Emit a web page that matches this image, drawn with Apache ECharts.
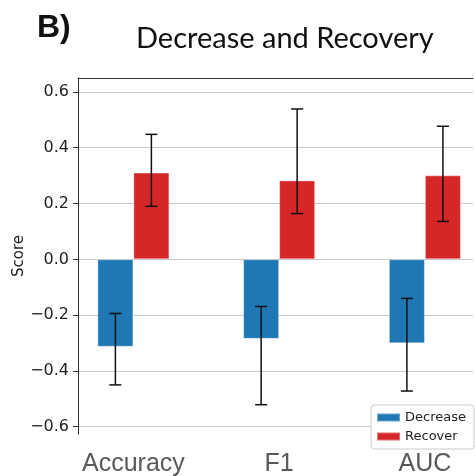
<!DOCTYPE html>
<html><head><meta charset="utf-8">
<script src="https://cdn.jsdelivr.net/npm/echarts@6/dist/echarts.min.js"></script>
<style>html,body{margin:0;padding:0;background:#fff}#c{width:475px;height:476px}</style>
</head><body><div id="c"></div>
<script>
const categories = ['Accuracy', 'F1', 'AUC'];
const seriesNames = ['Decrease', 'Recover'];
const decrease = [-0.313, -0.285, -0.301];
const decreaseLow = [-0.450, -0.521, -0.472];
const decreaseHigh = [-0.194, -0.169, -0.140];
const recover = [0.311, 0.283, 0.301];
const recoverLow = [0.190, 0.164, 0.136];
const recoverHigh = [0.448, 0.539, 0.477];
const yTicks = [-0.6, -0.4, -0.2, 0.0, 0.2, 0.4, 0.6];

const BAR_W = 36;
const catIdx = categories.map((c, i) => i);

function errRender(side) {
  return function (params, api) {
    const x = api.value(0);
    const lo = api.coord([x, api.value(1)]);
    const hi = api.coord([x, api.value(2)]);
    const cx = lo[0] + side * BAR_W / 2;
    const cap = 6;
    const style = { stroke: '#111', lineWidth: 1.5 };
    return { type: 'group', children: [
      { type: 'line', shape: { x1: cx, y1: hi[1], x2: cx, y2: lo[1] }, style },
      { type: 'line', shape: { x1: cx - cap, y1: hi[1], x2: cx + cap, y2: hi[1] }, style },
      { type: 'line', shape: { x1: cx - cap, y1: lo[1], x2: cx + cap, y2: lo[1] }, style }
    ]};
  };
}

const chart = echarts.init(document.getElementById('c'), null, { renderer: 'canvas' });
const xMin = -0.38, xMax = 2.33;
chart.setOption({
  animation: false,
  backgroundColor: '#fff',
  title: [
    { text: 'Decrease and Recovery', left: 131, top: 19,
      textStyle: { fontFamily: 'Lato', fontSize: 29, fontWeight: 'normal', color: '#111' } },
    { text: 'B)', left: 32, top: 7,
      textStyle: { fontFamily: 'Liberation Sans', fontSize: 32, fontWeight: 'bold', color: '#111' } }
  ],
  grid: { left: 78, right: 2, top: 78, bottom: 42, containLabel: false, outerBoundsMode: 'none' },
  legend: {
    data: seriesNames, orient: 'vertical', right: 1, bottom: 27,
    icon: 'rect', itemWidth: 23, itemHeight: 8, itemGap: 6,
    padding: [6, 8, 6, 5], borderColor: '#ccc', borderWidth: 1, borderRadius: 3,
    backgroundColor: '#fff',
    textStyle: { fontFamily: 'DejaVu Sans', fontSize: 13, color: '#222' }
  },
  xAxis: [
    { type: 'value', min: xMin, max: xMax,
      axisLine: { show: false }, axisTick: { show: false }, splitLine: { show: false },
      axisLabel: { customValues: catIdx, formatter: v => categories[Math.round(v)],
        fontFamily: 'Liberation Sans', fontSize: 25, color: '#595959', margin: 18 } },
    { type: 'value', position: 'top', min: xMin, max: xMax,
      axisLine: { show: true, onZero: false, lineStyle: { color: '#333', width: 1 } },
      axisTick: { show: false }, axisLabel: { show: false }, splitLine: { show: false } }
  ],
  yAxis: {
    type: 'value', min: -0.626, max: 0.65,
    name: 'Score', nameLocation: 'middle', nameGap: 51, nameRotate: 90, nameMoveOverlap: false,
    nameTextStyle: { fontFamily: 'DejaVu Sans', fontSize: 15, color: '#222' },
    axisLine: { show: true, onZero: false, lineStyle: { color: '#333', width: 1 } },
    axisTick: { show: true, customValues: yTicks, length: 5, lineStyle: { color: '#333' } },
    axisLabel: { customValues: yTicks, margin: 9,
      formatter: v => v.toFixed(1).replace('-', '\u2212'),
      fontFamily: 'DejaVu Sans', fontSize: 16, color: '#222' },
    splitLine: { show: true, lineStyle: { color: '#c8c8c8', width: 1 } }
  },
  series: [
    { name: seriesNames[0], type: 'bar', barWidth: BAR_W, barGap: '0%',
      itemStyle: { color: '#1f77b4', borderColor: 'rgba(255,255,255,0.35)', borderWidth: 1 },
      data: decrease.map((v, i) => [i, v]) },
    { name: seriesNames[1], type: 'bar', barWidth: BAR_W, barGap: '0%',
      itemStyle: { color: '#d62728', borderColor: 'rgba(255,255,255,0.35)', borderWidth: 1 },
      data: recover.map((v, i) => [i, v]) },
    { name: 'errDecrease', type: 'custom', z: 5, renderItem: errRender(-1),
      encode: { x: 0, y: [1, 2] },
      data: decreaseLow.map((v, i) => [i, v, decreaseHigh[i]]) },
    { name: 'errRecover', type: 'custom', z: 5, renderItem: errRender(1),
      encode: { x: 0, y: [1, 2] },
      data: recoverLow.map((v, i) => [i, v, recoverHigh[i]]) }
  ]
});
</script></body></html>
